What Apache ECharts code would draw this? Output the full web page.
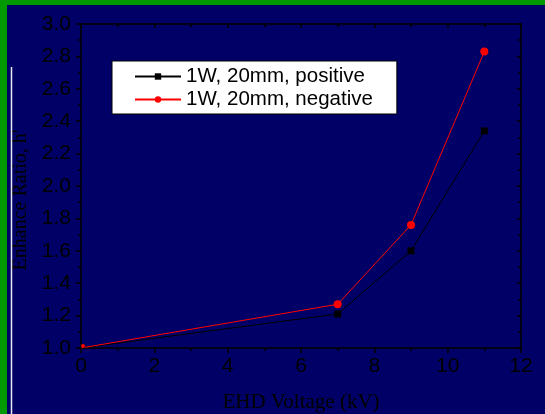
<!DOCTYPE html>
<html>
<head>
<meta charset="utf-8">
<script src="https://cdn.jsdelivr.net/npm/echarts@6/dist/echarts.min.js"></script>
<style>
  html, body { margin: 0; padding: 0; background: #000066; }
  #chart { width: 545px; height: 414px; }
</style>
</head>
<body>
<div id="chart"></div>
<script>
// EHD voltage (kV) and measured enhance ratio for the two polarities
const voltage = [0, 7, 9, 11];
const positiveRatio = [1.0, 1.21, 1.60, 2.34];
const negativeRatio = [1.0, 1.27, 1.76, 2.83];
const seriesNames = ['1W, 20mm, positive', '1W, 20mm, negative'];
const xTitle = 'EHD Voltage (kV)';
const yTitle = "Enhance Ratio, h'";

const toPoints = (ys) => voltage.map((x, i) => {
  const p = { value: [x, ys[i]] };
  // the marker sitting on the axis corner is mostly hidden behind the frame
  if (i === 0) { p.symbolSize = 4; p.symbolOffset = [2, -2]; }
  return p;
});

const chart = echarts.init(document.getElementById('chart'));
const tickFont = { fontFamily: 'Arial, "Liberation Sans"', fontSize: 21, color: '#000000' };
const axisLine = { show: true, onZero: false, lineStyle: { color: '#000000', width: 1.5 } };

chart.setOption({
  backgroundColor: '#000066',
  animation: false,
  grid: { left: 81, right: 24, top: 24, bottom: 66, outerBoundsMode: 'none' },
  legend: {
    left: 112, top: 61, orient: 'vertical',
    backgroundColor: '#ffffff', borderColor: '#000000', borderWidth: 1,
    padding: [4, 24, 3, 22],
    itemWidth: 46, itemHeight: 8, itemGap: 0,
    textStyle: { fontFamily: 'Arial, "Liberation Sans"', fontSize: 20.5, color: '#000000', lineHeight: 23 },
    data: seriesNames
  },
  xAxis: [{
    type: 'value', min: 0, max: 12, interval: 2,
    name: xTitle, nameLocation: 'middle', nameGap: 44,
    nameTextStyle: { fontFamily: '"Liberation Serif", "Times New Roman", serif', fontSize: 21, color: '#000000' },
    axisLine: axisLine,
    axisTick: { show: true, length: 5, lineStyle: { color: '#000000', width: 1.5 } },
    minorTick: { show: true, splitNumber: 2, length: 3, lineStyle: { color: '#000000', width: 1.5 } },
    axisLabel: Object.assign({ margin: 8 }, tickFont),
    splitLine: { show: false }
  }, {
    type: 'value', min: 0, max: 12, interval: 2, position: 'top',
    axisLine: axisLine,
    axisTick: { show: true, inside: true, length: 4, lineStyle: { color: '#000000', width: 1.5 } },
    minorTick: { show: true, splitNumber: 2, length: 3, lineStyle: { color: '#000000', width: 1.5 } },
    axisLabel: { show: false },
    splitLine: { show: false }
  }],
  yAxis: [{
    type: 'value', min: 1.0, max: 3.0, interval: 0.2,
    name: yTitle, nameLocation: 'middle', nameGap: 49, nameRotate: 90,
    nameTextStyle: {
      fontFamily: '"Liberation Serif", "Times New Roman", serif', fontSize: 20, color: '#000000',
      padding: [0, 28, 0, 0]
    },
    axisLine: axisLine,
    axisTick: { show: true, length: 5, lineStyle: { color: '#000000', width: 1.5 } },
    minorTick: { show: true, splitNumber: 2, length: 3, lineStyle: { color: '#000000', width: 1.5 } },
    axisLabel: Object.assign({ margin: 10, formatter: (v) => v.toFixed(1) }, tickFont),
    splitLine: { show: false }
  }, {
    type: 'value', min: 1.0, max: 3.0, interval: 0.2, position: 'right',
    axisLine: axisLine,
    axisTick: { show: true, inside: true, length: 4, lineStyle: { color: '#000000', width: 1.5 } },
    minorTick: { show: true, splitNumber: 2, length: 3, lineStyle: { color: '#000000', width: 1.5 } },
    axisLabel: { show: false },
    splitLine: { show: false }
  }],
  graphic: [
    { type: 'rect', left: 0, top: 0, shape: { width: 545, height: 5 }, style: { fill: '#009900' }, z: 100 },
    { type: 'rect', left: 0, top: 0, shape: { width: 7, height: 414 }, style: { fill: '#009900' }, z: 100 },
    { type: 'line', shape: { x1: 11.5, y1: 67, x2: 11.5, y2: 414 }, style: { stroke: '#e8e8f4', lineWidth: 1.5 }, z: 100 }
  ],
  series: [{
    name: seriesNames[0], type: 'line', data: toPoints(positiveRatio),
    symbol: 'rect', symbolSize: 7, showAllSymbol: true,
    lineStyle: { color: '#000000', width: 1 },
    itemStyle: { color: '#000000' }
  }, {
    name: seriesNames[1], type: 'line', data: toPoints(negativeRatio),
    symbol: 'circle', symbolSize: 8, showAllSymbol: true,
    lineStyle: { color: '#ff0000', width: 1 },
    itemStyle: { color: '#ff0000' }
  }]
});
</script>
</body>
</html>
